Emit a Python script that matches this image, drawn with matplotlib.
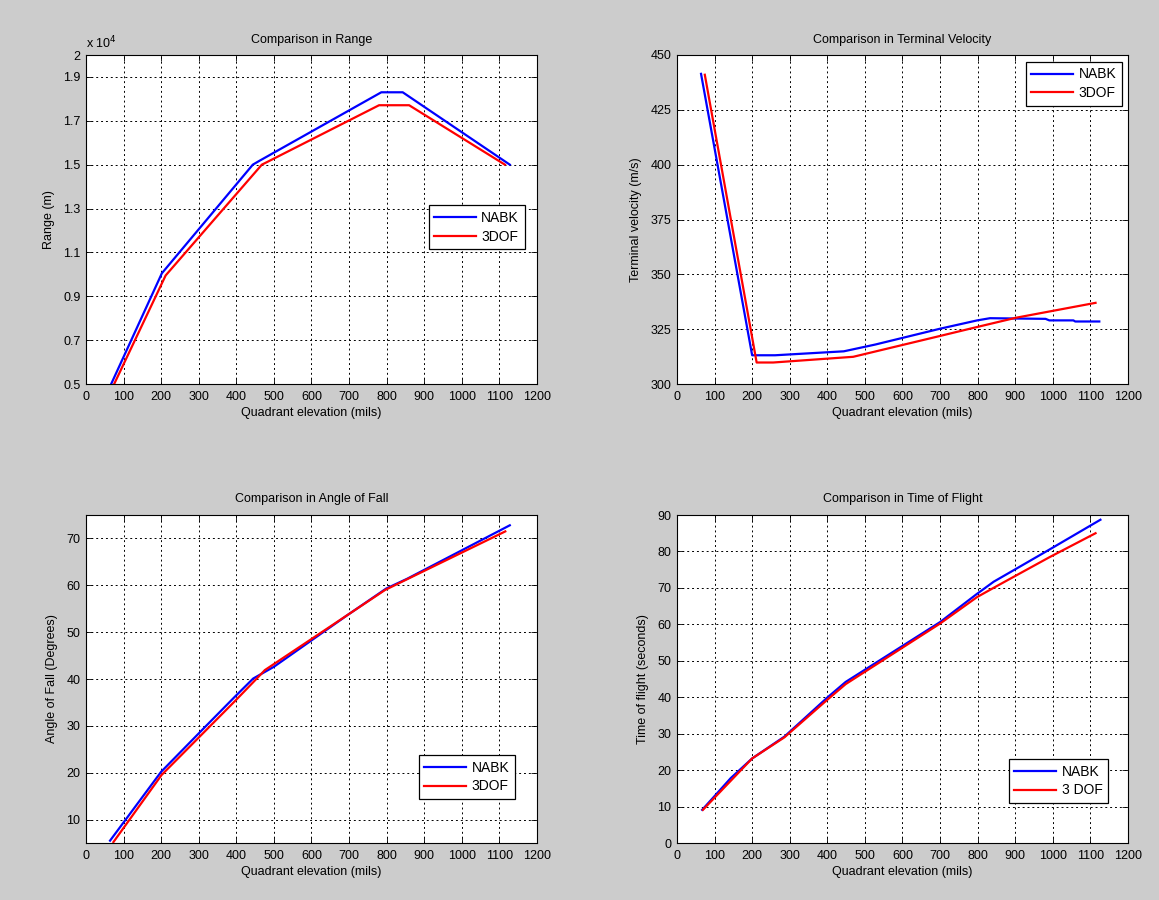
import matplotlib
matplotlib.use("Agg")
import matplotlib.pyplot as plt
from matplotlib.ticker import FixedLocator, FuncFormatter

plt.rcParams['font.family'] = ['Liberation Sans', 'DejaVu Sans']

# ---------------- data ----------------
# Range (m)
range_nabk_x = [67, 202, 444, 461, 786, 843, 1128]
range_nabk_y = [5000, 10050, 15000, 15170, 18300, 18300, 15000]
range_3dof_x = [75, 212, 468, 482, 780, 860, 1115]
range_3dof_y = [5000, 9950, 15000, 15120, 17710, 17710, 15000]

# Terminal velocity (m/s)
vel_nabk_x = [64, 200, 261, 444, 528, 700, 799, 833, 981, 991, 1055, 1060, 1124]
vel_nabk_y = [441.4, 313.1, 313.1, 314.9, 318.0, 325.2, 329.0, 330.0, 329.7, 329.0, 329.0, 328.5, 328.5]
vel_3dof_x = [74, 212, 256, 469, 700, 799, 902, 1114]
vel_3dof_y = [441.0, 309.8, 309.8, 312.4, 321.9, 326.0, 330.2, 337.0]

# Angle of fall (degrees)
aof_nabk_x = [64, 200, 321, 396, 445, 500, 697, 799, 855, 1128]
aof_nabk_y = [5.5, 20.2, 30.1, 36.2, 40.1, 42.6, 53.7, 59.3, 61.4, 72.8]
aof_3dof_x = [73, 201, 399, 463, 476, 796, 1116]
aof_3dof_y = [5.2, 19.5, 35.5, 40.8, 41.9, 59.0, 71.5]

# Time of flight (s)
tof_nabk_x = [67, 143, 200, 286, 400, 449, 700, 799, 843, 902, 991, 1127]
tof_nabk_y = [9.1, 17.8, 23.2, 29.2, 39.9, 44.2, 60.6, 68.4, 71.7, 75.2, 80.5, 88.7]
tof_3dof_x = [69, 200, 286, 400, 449, 700, 799, 853, 991, 1114]
tof_3dof_y = [9.1, 23.2, 29.0, 39.3, 43.6, 60.2, 67.5, 70.6, 78.4, 85.0]

xticks = [0, 100, 200, 300, 400, 500, 600, 700, 800, 900, 1000, 1100, 1200]
range_ticks = [5000, 7000, 9000, 11000, 13000, 15000, 17000, 19000, 20000]
vel_ticks = [300, 325, 350, 375, 400, 425, 450]
aof_ticks = [10, 20, 30, 40, 50, 60, 70]
tof_ticks = [0, 10, 20, 30, 40, 50, 60, 70, 80, 90]

BLUE = '#0000ff'
RED = '#ff0000'
BG = '#cccccc'
FS = 9

fig = plt.figure(figsize=(11.59, 9.0), dpi=100, facecolor=BG)

W = 0.389
positions = {
    'tl': [86/1159, 1-384/900, W, 329/900],
    'tr': [677/1159, 1-384/900, W, 329/900],
    'bl': [86/1159, 1-843/900, W, 328/900],
    'br': [677/1159, 1-843/900, W, 328/900],
}

def style(ax, title, ylabel):
    ax.set_facecolor('white')
    ax.set_xlim(0, 1200)
    ax.xaxis.set_major_locator(FixedLocator(xticks))
    ax.set_title(title, fontsize=FS, pad=9)
    ax.set_xlabel('Quadrant elevation (mils)', fontsize=FS, labelpad=3)
    ax.set_ylabel(ylabel, fontsize=FS, labelpad=6)
    ax.tick_params(direction='in', top=True, right=True, labelsize=FS, length=4, width=0.6)
    ax.tick_params(axis='x', pad=5)
    ax.tick_params(axis='y', pad=4)
    ax.grid(True, color='black', linestyle=(0, (2, 3)), linewidth=0.7)
    for s in ax.spines.values():
        s.set_linewidth(0.8)
        s.set_color('black')

def legend(ax, labels, **kw):
    lg = ax.legend(labels, fontsize=FS + 1, frameon=True, fancybox=False,
                   edgecolor='black', framealpha=1, handlelength=3.0,
                   borderpad=0.4, labelspacing=0.35, handletextpad=0.4,
                   borderaxespad=0, **kw)
    lg.get_frame().set_linewidth(0.9)

# Range
ax = fig.add_axes(positions['tl'])
ax.plot(range_nabk_x, range_nabk_y, color=BLUE, lw=1.6)
ax.plot(range_3dof_x, range_3dof_y, color=RED, lw=1.6)
ax.set_ylim(5000, 20000)
ax.yaxis.set_major_locator(FixedLocator(range_ticks))
ax.yaxis.set_major_formatter(FuncFormatter(lambda v, p: '%g' % (v / 1e4)))
style(ax, 'Comparison in Range', 'Range (m)')
ax.text(0.0, 1.012, r'x 10$^4$', transform=ax.transAxes, fontsize=FS, ha='left', va='bottom')
legend(ax, ['NABK', '3DOF'], loc='center right', bbox_to_anchor=(0.973, 0.476))

# Terminal velocity
ax = fig.add_axes(positions['tr'])
ax.plot(vel_nabk_x, vel_nabk_y, color=BLUE, lw=1.6)
ax.plot(vel_3dof_x, vel_3dof_y, color=RED, lw=1.6)
ax.set_ylim(300, 450)
ax.yaxis.set_major_locator(FixedLocator(vel_ticks))
style(ax, 'Comparison in Terminal Velocity', 'Terminal velocity (m/s)')
legend(ax, ['NABK', '3DOF'], loc='upper right', bbox_to_anchor=(0.987, 0.979))

# Angle of fall
ax = fig.add_axes(positions['bl'])
ax.plot(aof_nabk_x, aof_nabk_y, color=BLUE, lw=1.6)
ax.plot(aof_3dof_x, aof_3dof_y, color=RED, lw=1.6)
ax.set_ylim(5, 75)
ax.yaxis.set_major_locator(FixedLocator(aof_ticks))
style(ax, 'Comparison in Angle of Fall', 'Angle of Fall (Degrees)')
legend(ax, ['NABK', '3DOF'], loc='lower right', bbox_to_anchor=(0.951, 0.134))

# Time of flight
ax = fig.add_axes(positions['br'])
ax.plot(tof_nabk_x, tof_nabk_y, color=BLUE, lw=1.6)
ax.plot(tof_3dof_x, tof_3dof_y, color=RED, lw=1.6)
ax.set_ylim(0, 90)
ax.yaxis.set_major_locator(FixedLocator(tof_ticks))
style(ax, 'Comparison in Time of Flight', 'Time of flight (seconds)')
legend(ax, ['NABK', '3 DOF'], loc='lower right', bbox_to_anchor=(0.956, 0.122))

fig.savefig('out.png', dpi=100, facecolor=BG)
